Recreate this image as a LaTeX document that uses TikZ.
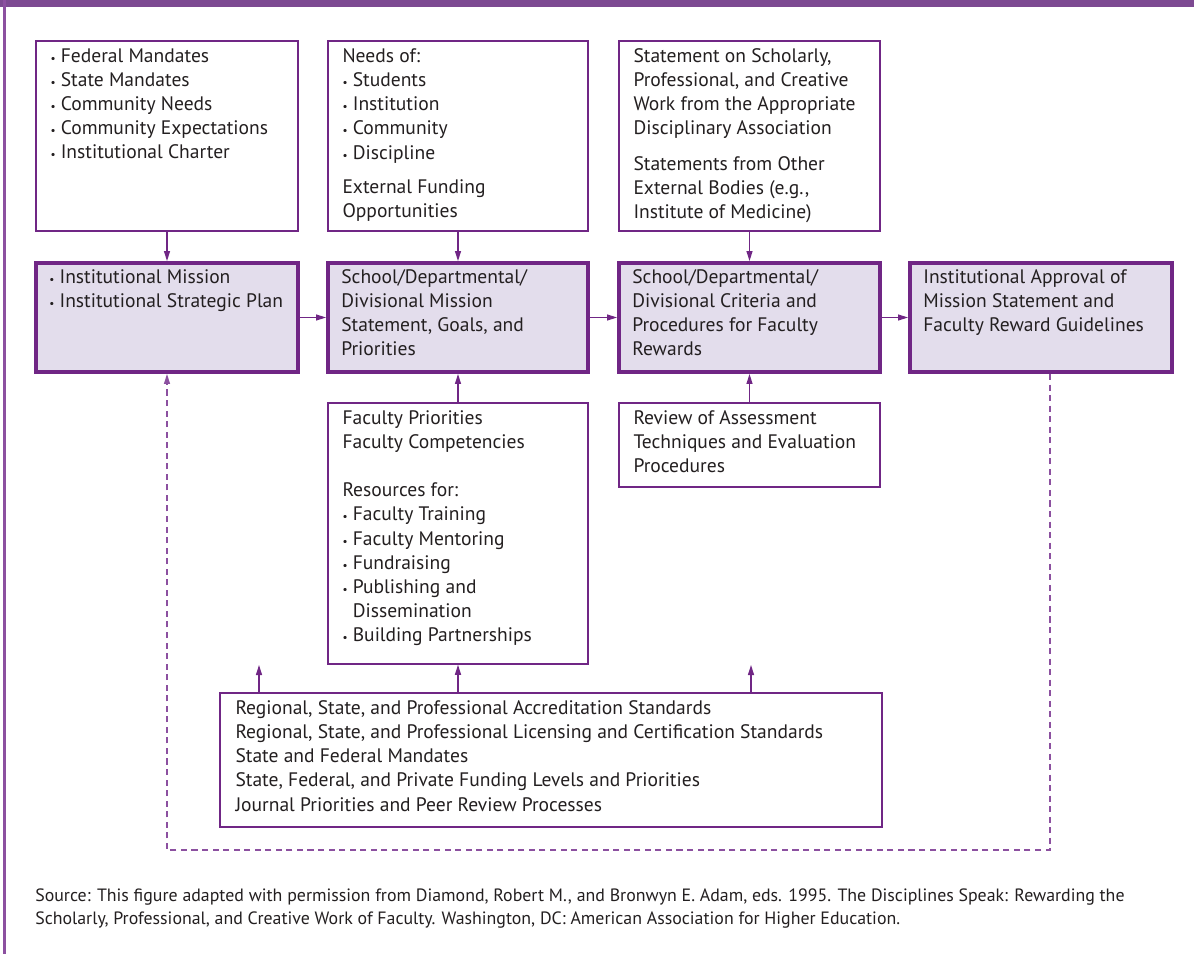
\documentclass[tikz,border=0pt]{standalone}
\usepackage{fontspec}
\setmainfont{PT Sans}
\usetikzlibrary{positioning,arrows.meta,calc}
\definecolor{plum}{RGB}{112,38,133}
\definecolor{lilac}{RGB}{227,221,236}
\definecolor{barplum}{RGB}{125,74,146}
\definecolor{dashplum}{RGB}{140,80,160}
\definecolor{ink}{RGB}{35,31,32}
\tikzset{txt/.style={anchor=north west, inner sep=0pt, align=left, text=ink, font=\fontsize{13.9}{17.2}\selectfont}}
\newcommand{\bu}{{\footnotesize\textbullet}\ }

\begin{document}
\begin{tikzpicture}[
    >={Triangle[length=0.25cm,width=0.15cm]},
    line/.style={draw=plum, ->, line width=0.9pt},
    back/.style={draw=dashplum, ->, line width=0.9pt, dash pattern=on 4.3pt off 3.2pt},
    inbox/.style={
        draw=plum,
        line width=1.1pt,
        fill=white,
        minimum width=6.55cm
    },
    keybox/.style={
        draw=plum,
        line width=2.8pt,
        fill=lilac,
        minimum width=6.55cm,
        minimum height=2.725cm
    }
]
\useasboundingbox (0,0) rectangle (29.85,-23.85);
% Frame
\fill[barplum] (0,0) rectangle (29.85,-0.175);
\fill[dashplum] (0.075,0) rectangle (0.15,-23.85);
% Top inputs
\node[inbox, minimum height=4.75cm] (mandates) at (4.175,-3.4) {};
\node[inbox, minimum width=6.5cm, minimum height=4.75cm] (needs) at (11.45,-3.4) {};
\node[inbox, minimum width=6.525cm, minimum height=4.75cm] (statements) at (18.7375,-3.4) {};
% Key boxes
\node[keybox] (mission) at (4.175,-7.9375) {};
\node[keybox, minimum width=6.5cm] (unit) at (11.45,-7.9375) {};
\node[keybox, minimum width=6.525cm] (criteria) at (18.7375,-7.9375) {};
\node[keybox] (approval) at (26.025,-7.9375) {};
% Lower inputs
\node[inbox, minimum width=6.5cm, minimum height=6.525cm] (faculty) at (11.45,-13.3375) {};
\node[inbox, minimum width=6.525cm, minimum height=2.1cm] (review) at (18.7375,-11.125) {};
\node[inbox, minimum width=16.55cm, minimum height=3.35cm] (external) at (13.775,-19.0) {};
% Texts
\node[txt] (mandatesTxt) at ([shift={(0.375,-0.2)}]mandates.north west) {\bu Federal Mandates\\ \bu State Mandates\\ \bu Community Needs\\ \bu Community Expectations\\ \bu Institutional Charter};
\node[txt] (needsTxt) at ([shift={(0.375,-0.2)}]needs.north west) {Needs of:\\ \bu Students\\ \bu Institution\\ \bu Community\\ \bu Discipline\\[0.25cm] External Funding\\ Opportunities};
\node[txt] (statementsTxt) at ([shift={(0.375,-0.2)}]statements.north west) {Statement on Scholarly,\\ Professional, and Creative\\ Work from the Appropriate\\ Disciplinary Association\\[0.275cm] Statements from Other\\ External Bodies (e.g.,\\ Institute of Medicine)};
\node[txt] (missionTxt) at ([shift={(0.375,-0.2)}]mission.north west) {\bu Institutional Mission\\ \bu Institutional Strategic Plan};
\node[txt] (unitTxt) at ([shift={(0.375,-0.2)}]unit.north west) {School/Departmental/\\ Divisional Mission\\ Statement, Goals, and\\ Priorities};
\node[txt] (criteriaTxt) at ([shift={(0.375,-0.2)}]criteria.north west) {School/Departmental/\\ Divisional Criteria and\\ Procedures for Faculty\\ Rewards};
\node[txt] (approvalTxt) at ([shift={(0.375,-0.2)}]approval.north west) {Institutional Approval of\\ Mission Statement and\\ Faculty Reward Guidelines};
\node[txt] (facultyTxt) at ([shift={(0.375,-0.2)}]faculty.north west) {Faculty Priorities\\ Faculty Competencies\\[0.6cm] Resources for:\\ \bu Faculty Training\\ \bu Faculty Mentoring\\ \bu Fundraising\\ \bu Publishing and\\ \phantom{\bu}Dissemination\\ \bu Building Partnerships};
\node[txt] (reviewTxt) at ([shift={(0.375,-0.2)}]review.north west) {Review of Assessment\\ Techniques and Evaluation\\ Procedures};
\node[txt] (externalTxt) at ([shift={(0.4,-0.2)}]external.north west) {Regional, State, and Professional Accreditation Standards\\ Regional, State, and Professional Licensing and Certification Standards\\ State and Federal Mandates\\ State, Federal, and Private Funding Levels and Priorities\\ Journal Priorities and Peer Review Processes};
% Source note
\node[txt, font=\fontsize{12.7}{15.8}\selectfont] (source) at (0.875,-22.22) {Source: This figure adapted with permission from Diamond, Robert M., and Bronwyn E. Adam, eds. 1995. The Disciplines Speak: Rewarding the\\ Scholarly, Professional, and Creative Work of Faculty. Washington, DC: American Association for Higher Education.};
% Top connections
\draw[line] (mandates) -- (mission);
\draw[line] (needs) -- (unit);
\draw[line] (statements) -- (criteria);
% Main chain
\draw[line] (mission) -- (unit);
\draw[line] (unit) -- (criteria);
\draw[line] (criteria) -- (approval);
% Lower inputs
\draw[line] (faculty) -- (unit);
\draw[line] (review) -- (criteria);
% External standards
\coordinate (leftTip) at (6.475,-16.625);
\coordinate (rightTip) at (18.775,-16.625);
\draw[line] (external.north -| leftTip) -- (leftTip);
\draw[line] (external.north -| faculty.south) -- (faculty.south);
\draw[line] (external.north -| rightTip) -- (rightTip);
% Feedback loop
\coordinate (loopR) at (26.25,-21.25);
\coordinate (loopL) at (4.175,-21.25);
\draw[back] (approval.south -| loopR) -- (loopR) -- (loopL) -- (mission.south);
\end{tikzpicture}
\end{document}
